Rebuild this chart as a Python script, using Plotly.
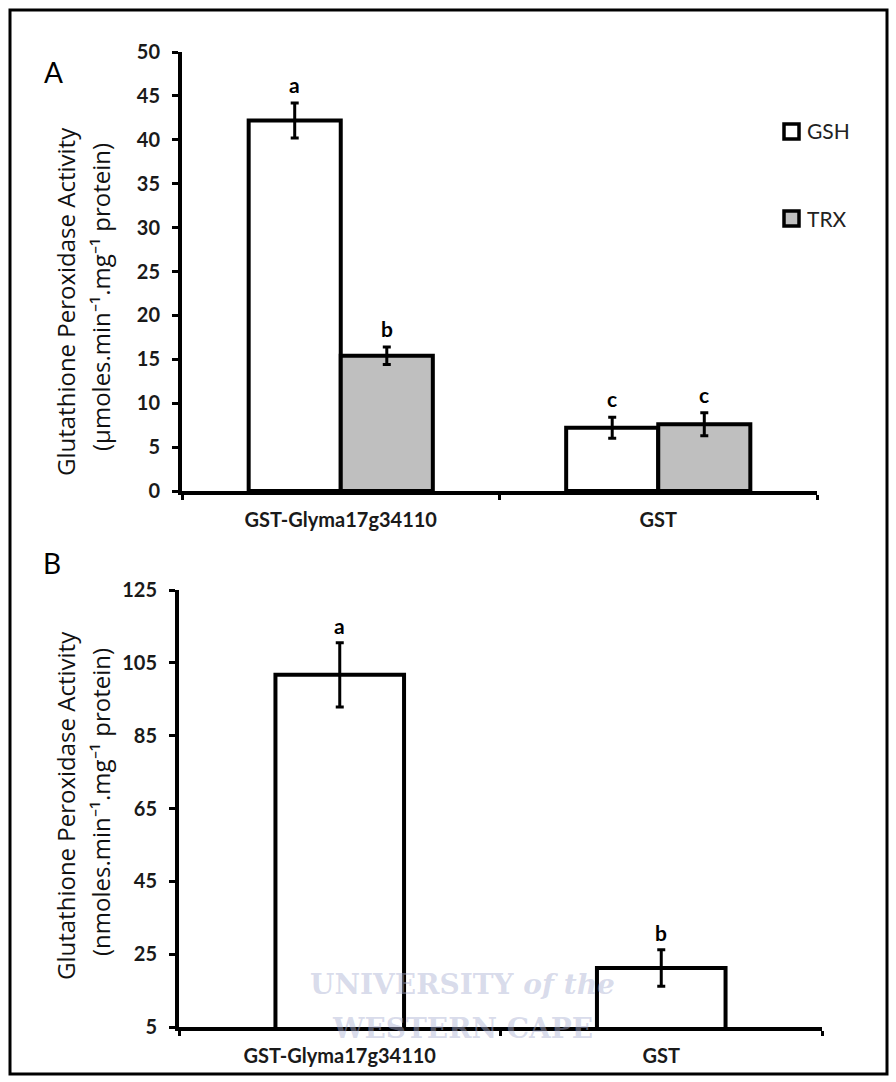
import plotly.graph_objects as go

# ---------------- data ----------------
categories = ["GST-Glyma17g34110", "GST"]
series_names = ["GSH", "TRX"]
gsh_vals = [42.2, 7.2]
gsh_err = [2.0, 1.2]
trx_vals = [15.4, 7.6]
trx_err = [1.0, 1.3]
gsh_letters = ["a", "c"]
trx_letters = ["b", "c"]

b_vals = [101.7, 21.2]
b_err = [8.8, 5.0]
b_letters = ["a", "b"]

a_ticks = [0, 5, 10, 15, 20, 25, 30, 35, 40, 45, 50]
b_ticks = [5, 25, 45, 65, 85, 105, 125]

title_main = "Glutathione Peroxidase Activity"
title_a_unit = "(µmoles.min⁻¹.mg⁻¹ protein)"
title_b_unit = "(nmoles.min⁻¹.mg⁻¹ protein)"

# ---------------- style ----------------
W, H = 896, 1082
FONT = "Lato"
TFONT = "Open Sans"
BLACK = "#000000"
GRAY = "#bfbfbf"
A_BARGAP = 0.42
B_BARGAP = 0.60


def px_x(p):
    return p / W


def px_y(p):
    return 1 - p / H


def note(x, y, text, font, **kw):
    d = dict(x=px_x(x), y=px_y(y), xref="paper", yref="paper", text=text,
             showarrow=False, xanchor="center", yanchor="middle", font=font)
    d.update(kw)
    return d


fig = go.Figure()

fig.add_trace(go.Bar(
    x=categories, y=gsh_vals, name=series_names[0],
    marker=dict(color="white", line=dict(color=BLACK, width=4)),
    error_y=dict(type="data", array=gsh_err, color=BLACK, thickness=3, width=4),
    xaxis="x", yaxis="y", showlegend=False,
))
fig.add_trace(go.Bar(
    x=categories, y=trx_vals, name=series_names[1],
    marker=dict(color=GRAY, line=dict(color=BLACK, width=4)),
    error_y=dict(type="data", array=trx_err, color=BLACK, thickness=3, width=4),
    xaxis="x", yaxis="y", showlegend=False,
))
fig.add_trace(go.Bar(
    x=categories, y=b_vals, name="B",
    marker=dict(color="white", line=dict(color=BLACK, width=4)),
    error_y=dict(type="data", array=b_err, color=BLACK, thickness=3, width=4),
    xaxis="x2", yaxis="y2", showlegend=False, width=1 - B_BARGAP,
))

LETF = dict(family=FONT, size=21, color=BLACK, weight="bold")
annotations = []
bw = (1 - A_BARGAP) / 2
for i in range(len(categories)):
    annotations.append(dict(x=i - bw / 2, y=gsh_vals[i] + gsh_err[i], xref="x", yref="y",
                            text=gsh_letters[i], showarrow=False, xanchor="center",
                            yanchor="bottom", yshift=4, font=LETF))
    annotations.append(dict(x=i + bw / 2, y=trx_vals[i] + trx_err[i], xref="x", yref="y",
                            text=trx_letters[i], showarrow=False, xanchor="center",
                            yanchor="bottom", yshift=4, font=LETF))
    annotations.append(dict(x=i, y=b_vals[i] + b_err[i], xref="x2", yref="y2",
                            text=b_letters[i], showarrow=False, xanchor="center",
                            yanchor="bottom", yshift=3, font=LETF))

PF = dict(family=FONT, size=28, color=BLACK)
annotations.append(note(53, 72, "A", PF))
annotations.append(note(52, 563, "B", PF))

TF = dict(family=TFONT, size=24, color="#111111")
annotations += [
    note(65, 302, title_main, TF, textangle=-90),
    note(100, 297, title_a_unit, TF, textangle=-90),
    note(65, 806, title_main, TF, textangle=-90),
    note(100, 802, title_b_unit, TF, textangle=-90),
]

LF = dict(family=FONT, size=21, color="#222222")
annotations += [
    note(805, 131, series_names[0], LF, xanchor="left"),
    note(805, 218, series_names[1], LF, xanchor="left"),
]

WF = dict(family="DejaVu Serif", size=28, color="rgba(170,175,210,0.45)", weight="bold")
annotations += [
    note(462, 984, "UNIVERSITY <i>of the</i>", WF),
    note(462, 1028, "WESTERN CAPE", WF),
]

shapes = [
    dict(type="rect", xref="paper", yref="paper", x0=px_x(10), x1=px_x(887), y0=px_y(1074),
         y1=px_y(10), line=dict(color=BLACK, width=3), fillcolor="rgba(0,0,0,0)"),
    dict(type="rect", xref="paper", yref="paper", x0=px_x(784), x1=px_x(799), y0=px_y(139),
         y1=px_y(124), line=dict(color=BLACK, width=3.5), fillcolor="white"),
    dict(type="rect", xref="paper", yref="paper", x0=px_x(784), x1=px_x(799), y0=px_y(226),
         y1=px_y(211), line=dict(color=BLACK, width=3.5), fillcolor=GRAY),
]

tickfont = dict(family=FONT, size=20, color="#1a1a1a", weight="bold")

common_x = dict(type="category", showline=True, linecolor=BLACK, linewidth=4, ticks="outside",
                tickson="boundaries", ticklen=5, tickwidth=3, tickcolor=BLACK,
                showgrid=False, zeroline=False, tickfont=tickfont, range=[-0.5, 1.5],
                ticklabelstandoff=8, automargin=False)
common_y = dict(showline=True, linecolor=BLACK, linewidth=4, ticks="outside", ticklen=6,
                tickwidth=3, tickcolor=BLACK, showgrid=False, zeroline=False,
                tickfont=tickfont, ticklabelstandoff=8, automargin=False)

fig.update_layout(
    width=W, height=H,
    margin=dict(l=0, r=0, t=0, b=0, pad=0, autoexpand=False),
    paper_bgcolor="white", plot_bgcolor="rgba(0,0,0,0)",
    barmode="group", bargap=A_BARGAP, bargroupgap=0,
    showlegend=False,
    xaxis=dict(domain=[px_x(182), px_x(817)], anchor="y", **common_x),
    yaxis=dict(domain=[px_y(491), px_y(52)], anchor="x", range=[0, 50], tickvals=a_ticks,
               **common_y),
    xaxis2=dict(domain=[px_x(179), px_x(822)], anchor="y2", **common_x),
    yaxis2=dict(domain=[px_y(1027), px_y(590)], anchor="x2", range=[5, 125], tickvals=b_ticks,
                **common_y),
    annotations=annotations,
    shapes=shapes,
)

post = ("var gd=document.getElementById('{plot_id}');"
        "document.body.style.margin='0';document.body.style.overflow='hidden';"
        "gd.style.position='fixed';gd.style.left='0px';gd.style.top='0px';")

fig.write_html("out.html", post_script=post, config={"displayModeBar": False})
